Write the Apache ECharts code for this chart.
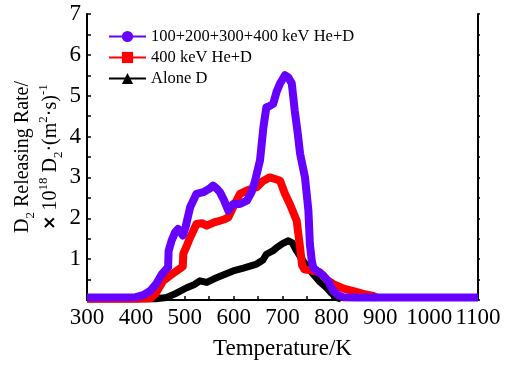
<!DOCTYPE html>
<html>
<head>
<meta charset="utf-8">
<script src="https://cdn.jsdelivr.net/npm/echarts@6/dist/echarts.min.js"></script>
<style>html,body{margin:0;padding:0;background:#fff}#c{width:507px;height:365px}</style>
</head>
<body>
<div id="c"></div>
<script>
var seriesNames = ['100+200+300+400 keV He+D', '400 keV He+D', 'Alone D'];
var xTicks = [300, 400, 500, 600, 700, 800, 900, 1000, 1100];
var yTicks = [1, 2, 3, 4, 5, 6, 7];

var tempMulti = [300, 350, 400, 415, 429, 442, 453, 462, 466, 467, 473, 480, 486, 491, 496, 502, 511, 524, 538, 550, 558, 566, 572, 580, 589, 599, 613, 627, 637, 644, 654, 661, 667, 674, 681, 688, 695, 705, 712, 719, 725, 731, 736, 746, 753, 756, 760, 763, 770, 783, 794, 804, 814, 824, 850, 900, 1000, 1100];
var rateMulti = [0.06, 0.06, 0.07, 0.12, 0.22, 0.4, 0.63, 0.75, 0.8, 1.2, 1.45, 1.65, 1.74, 1.68, 1.58, 1.8, 2.27, 2.6, 2.64, 2.72, 2.8, 2.72, 2.64, 2.45, 2.19, 2.35, 2.35, 2.43, 2.65, 2.92, 3.42, 4.23, 4.72, 4.75, 4.8, 5.1, 5.3, 5.5, 5.45, 5.3, 4.64, 4.1, 3.58, 3.0, 2.19, 1.37, 0.95, 0.79, 0.72, 0.6, 0.45, 0.22, 0.12, 0.07, 0.06, 0.06, 0.06, 0.06];

var temp400 = [300, 400, 430, 440, 456, 470, 483, 496, 497, 505, 511, 524, 535, 545, 560, 572, 580, 589, 599, 613, 627, 647, 661, 674, 688, 695, 705, 715, 729, 736, 740, 745, 760, 776, 790, 804, 825, 845, 865, 886, 893];
var rate400 = [0.03, 0.03, 0.04, 0.15, 0.47, 0.6, 0.71, 0.82, 1.13, 1.35, 1.53, 1.86, 1.88, 1.82, 1.9, 1.94, 1.97, 2.02, 2.27, 2.6, 2.68, 2.76, 2.92, 3.0, 2.95, 2.92, 2.6, 2.35, 1.94, 1.28, 0.85, 0.75, 0.72, 0.68, 0.5, 0.39, 0.28, 0.22, 0.15, 0.1, 0.05];

var tempAlone = [300, 440, 463, 480, 504, 520, 531, 545, 560, 580, 599, 620, 647, 660, 667, 680, 688, 700, 712, 720, 729, 742, 752, 763, 776, 790, 800, 811, 820];
var rateAlone = [0.03, 0.03, 0.06, 0.15, 0.3, 0.38, 0.47, 0.43, 0.52, 0.62, 0.71, 0.78, 0.88, 0.98, 1.12, 1.2, 1.28, 1.38, 1.45, 1.4, 1.2, 0.96, 0.8, 0.63, 0.45, 0.3, 0.17, 0.06, 0.03];

function zip(a, b) { return a.map(function (v, i) { return [v, b[i]]; }); }

var serif = 'Liberation Serif';
var chart = echarts.init(document.getElementById('c'));
var axisLine = { show: true, lineStyle: { color: '#000', width: 2 } };
chart.setOption({
  animation: false,
  backgroundColor: '#fff',
  grid: { left: 87, top: 14, width: 391, height: 286 },
  legend: {
    data: seriesNames,
    left: 103, top: 23, orient: 'vertical',
    itemWidth: 37, itemHeight: 14, itemGap: 4,
    textStyle: { fontFamily: serif, fontSize: 16.5, color: '#000' },
    lineStyle: { width: 2 }
  },
  xAxis: [{
    type: 'value', min: 300, max: 1100, interval: 100,
    axisLine: axisLine,
    axisTick: { show: true, inside: true, length: 4, lineStyle: { color: '#000', width: 1.5 } },
    minorTick: { show: true, splitNumber: 2, length: 4, lineStyle: { color: '#000', width: 1.5 } },
    splitLine: { show: false },
    axisLabel: { fontFamily: serif, fontSize: 23, color: '#000', margin: 6,
      formatter: function (v) { return xTicks.indexOf(v) >= 0 ? String(v) : ''; } },
    name: 'Temperature/K', nameLocation: 'middle', nameGap: 37,
    nameTextStyle: { fontFamily: serif, fontSize: 23, color: '#000' }
  }, {
    type: 'value', position: 'top', min: 300, max: 1100, interval: 50,
    axisLine: axisLine,
    axisTick: { show: true, inside: false, length: 2, lineStyle: { color: '#000', width: 1.5 } },
    axisLabel: { show: false }, splitLine: { show: false }
  }],
  yAxis: [{
    type: 'value', min: 0, max: 7, interval: 1,
    axisLine: axisLine,
    axisTick: { show: true, inside: true, length: 4, lineStyle: { color: '#000', width: 1.5 } },
    minorTick: { show: true, splitNumber: 2, length: 4, lineStyle: { color: '#000', width: 1.5 } },
    splitLine: { show: false },
    axisLabel: { fontFamily: serif, fontSize: 23, color: '#000', margin: 6,
      formatter: function (v) { return yTicks.indexOf(v) >= 0 ? String(v) : ''; } },
    name: '{a|D}{sub|2}{a| Releasing Rate/}\n{x|×}{a| 10}{sup|18}{a| D}{sub|2}{a|·(m}{sup|2}{a|·s)}{sup|-1}',
    nameLocation: 'middle', nameRotate: 90, nameGap: 22, nameMoveOverlap: false,
    nameTextStyle: {
      color: '#000', align: 'center',
      rich: {
        a: { fontFamily: serif, fontSize: 20, lineHeight: 28, color: '#000' },
        x: { fontFamily: 'DejaVu Sans', fontWeight: 'bold', fontSize: 17, lineHeight: 28, color: '#000' },
        sub: { fontFamily: serif, fontSize: 13, lineHeight: 15, verticalAlign: 'bottom', color: '#000' },
        sup: { fontFamily: serif, fontSize: 13, lineHeight: 15, verticalAlign: 'top', color: '#000' }
      }
    }
  }, {
    type: 'value', position: 'right', min: 0, max: 7, interval: 0.5,
    axisLine: axisLine,
    axisTick: { show: true, inside: false, length: 2, lineStyle: { color: '#000', width: 1.5 } },
    axisLabel: { show: false }, splitLine: { show: false }
  }],
  series: [
    { name: seriesNames[2], type: 'line', data: zip(tempAlone, rateAlone), symbol: 'triangle', symbolSize: 9, showSymbol: false,
      color: '#000', lineStyle: { width: 7, join: 'round', cap: 'butt' }, z: 2 },
    { name: seriesNames[1], type: 'line', data: zip(temp400, rate400), symbol: 'rect', symbolSize: 9, showSymbol: false,
      color: '#ff0000', lineStyle: { width: 8, join: 'round', cap: 'butt' }, z: 3 },
    { name: seriesNames[0], type: 'line', data: zip(tempMulti, rateMulti), symbol: 'circle', symbolSize: 9, showSymbol: false,
      color: '#6600ff', lineStyle: { width: 8, join: 'round', cap: 'butt' }, z: 4 }
  ]
});
</script>
</body>
</html>
